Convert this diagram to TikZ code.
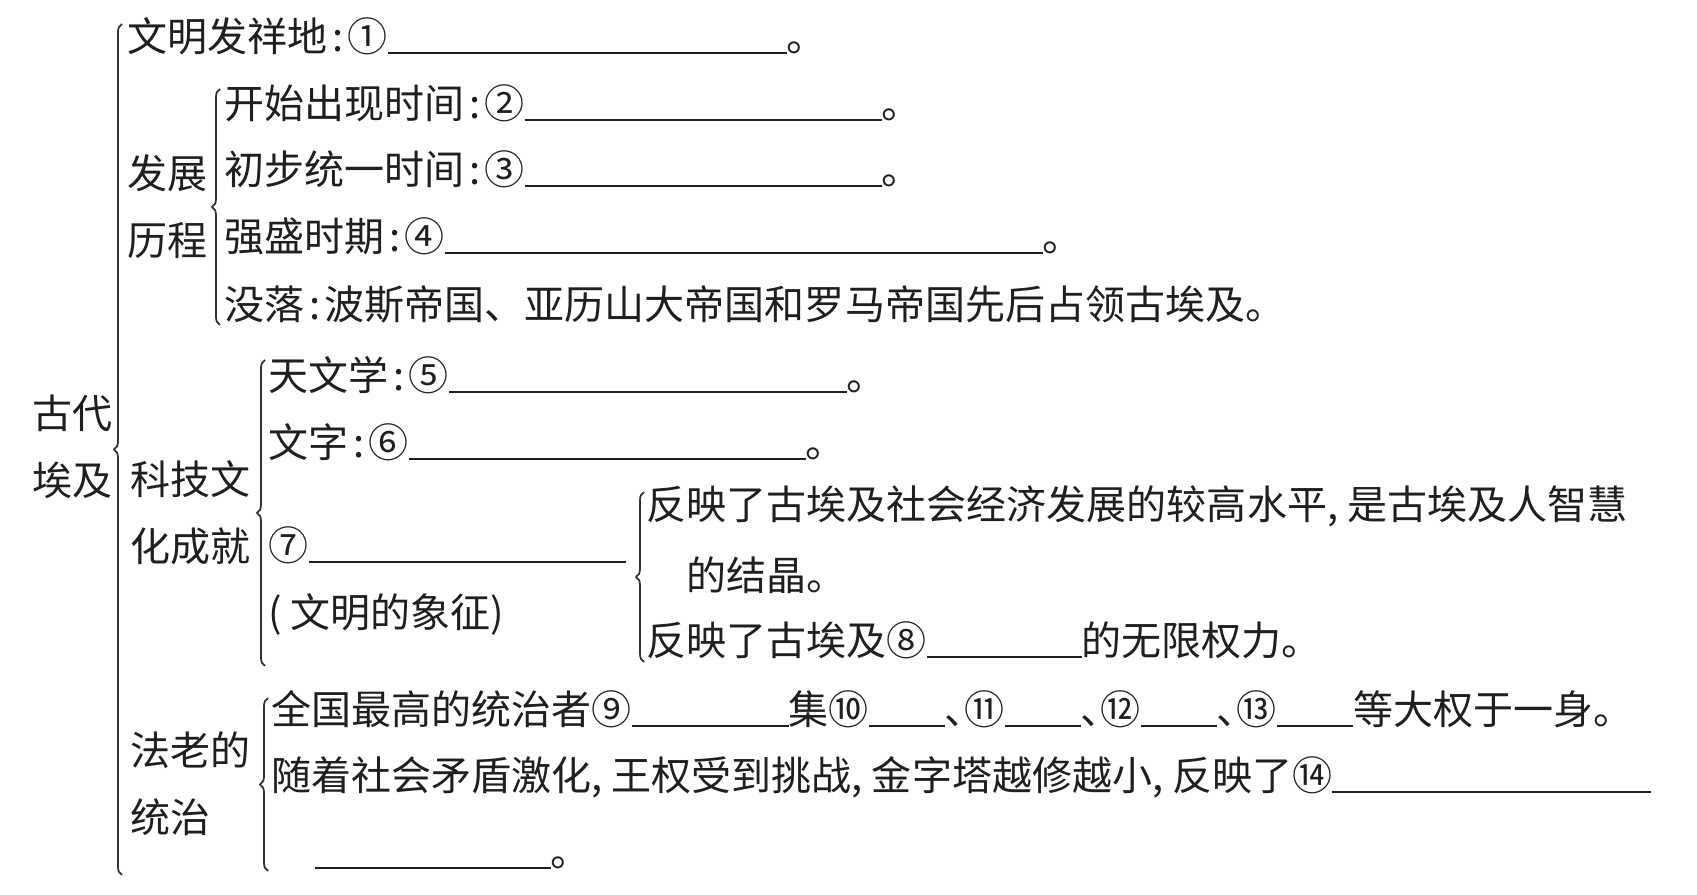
\documentclass[tikz,border=0pt]{standalone}
\usepackage{fontspec}
\newfontfamily\cjk{Noto Sans CJK SC}
\usetikzlibrary{decorations.pathreplacing}
\newlength\pxu
\setlength\pxu{0.01cm}
\newcommand\answerline[1]{\rule[-0.06em]{#1\pxu}{0.6pt}}
\newcommand\hcolon{\makebox[0.5em]{:}}
\newcommand\hcomma{\makebox[0.5em][l]{,}}
\newcommand\hdun{\makebox[0.5em][l]{、}}
\tikzset{
  entry/.style = {anchor=base west, inner sep=0pt, text=black!88,
    font=\cjk\fontsize{11.38pt}{19pt}\selectfont},
  topic/.style = {anchor=west, inner sep=0pt, align=left, text=black!88,
    font=\cjk\fontsize{11.38pt}{19pt}\selectfont},
  curly/.style = {decorate, decoration={brace, amplitude=0.08cm},
    draw=black!80, line width=0.5pt},
}

\begin{document}
\begin{tikzpicture}[x=0.01cm, y=-0.01cm]
\fill[white] (0,0) rectangle (1697,895);
\useasboundingbox (0,0) rectangle (1697,895);

% root
\node[topic] (egypt) at (32,447) {古代\\埃及};
\draw[curly] (122,875) -- (122,24);
\node[entry] (origin) at (127,52) {文明发祥地\hcolon①\answerline{399}。};

% development
\node[topic] (devel) at (127,207) {发展\\历程};
\draw[curly] (220,325) -- (220,89);
\node[entry] (appear) at (224,119) {开始出现时间\hcolon②\answerline{357}。};
\node[entry] (unify) at (224,185) {初步统一时间\hcolon③\answerline{357}。};
\node[entry] (peak) at (224,252) {强盛时期\hcolon④\answerline{598}。};
\node[entry] (decline) at (224,320) {没落\hcolon 波斯帝国、亚历山大帝国和罗马帝国先后占领古埃及。};

% science and culture
\node[topic] (culture) at (130,513) {科技文\\化成就};
\draw[curly] (265,666) -- (265,360);
\node[entry] (astro) at (268,391) {天文学\hcolon⑤\answerline{398}。};
\node[entry] (script) at (268,458) {文字\hcolon⑥\answerline{397}。};
\node[entry] (pyramid) at (268,561) {⑦\answerline{317}};
\node[entry] (symbol) at (268,628) {(\hspace{0.2em}文明的象征)};
\draw[curly] (644,662) -- (644,492);
\node[topic, font=\cjk\fontsize{11.38pt}{20.2pt}\selectfont] (wisdom) at (646,540)
  {反映了古埃及社会经济发展的较高水平\hcomma 是古埃及人智慧\\\hspace*{1em}的结晶。};
\node[entry] (power) at (646,656) {反映了古埃及⑧\answerline{155}的无限权力。};

% pharaoh
\node[topic] (pharaoh) at (130,784) {法老的\\统治};
\draw[curly] (268,871) -- (268,698);
\node[entry] (ruler) at (271,725) {全国最高的统治者⑨\answerline{157}集⑩\answerline{76}\hdun⑪\answerline{76}\hdun⑫\answerline{76}\hdun⑬\answerline{76}等大权于一身。};
\node[entry] (shrink) at (271,791) {随着社会矛盾激化\hcomma 王权受到挑战\hcomma 金字塔越修越小\hcomma 反映了⑭\answerline{319}};
\node[entry] (tail) at (314,867) {\answerline{236}。};
\end{tikzpicture}
\end{document}
